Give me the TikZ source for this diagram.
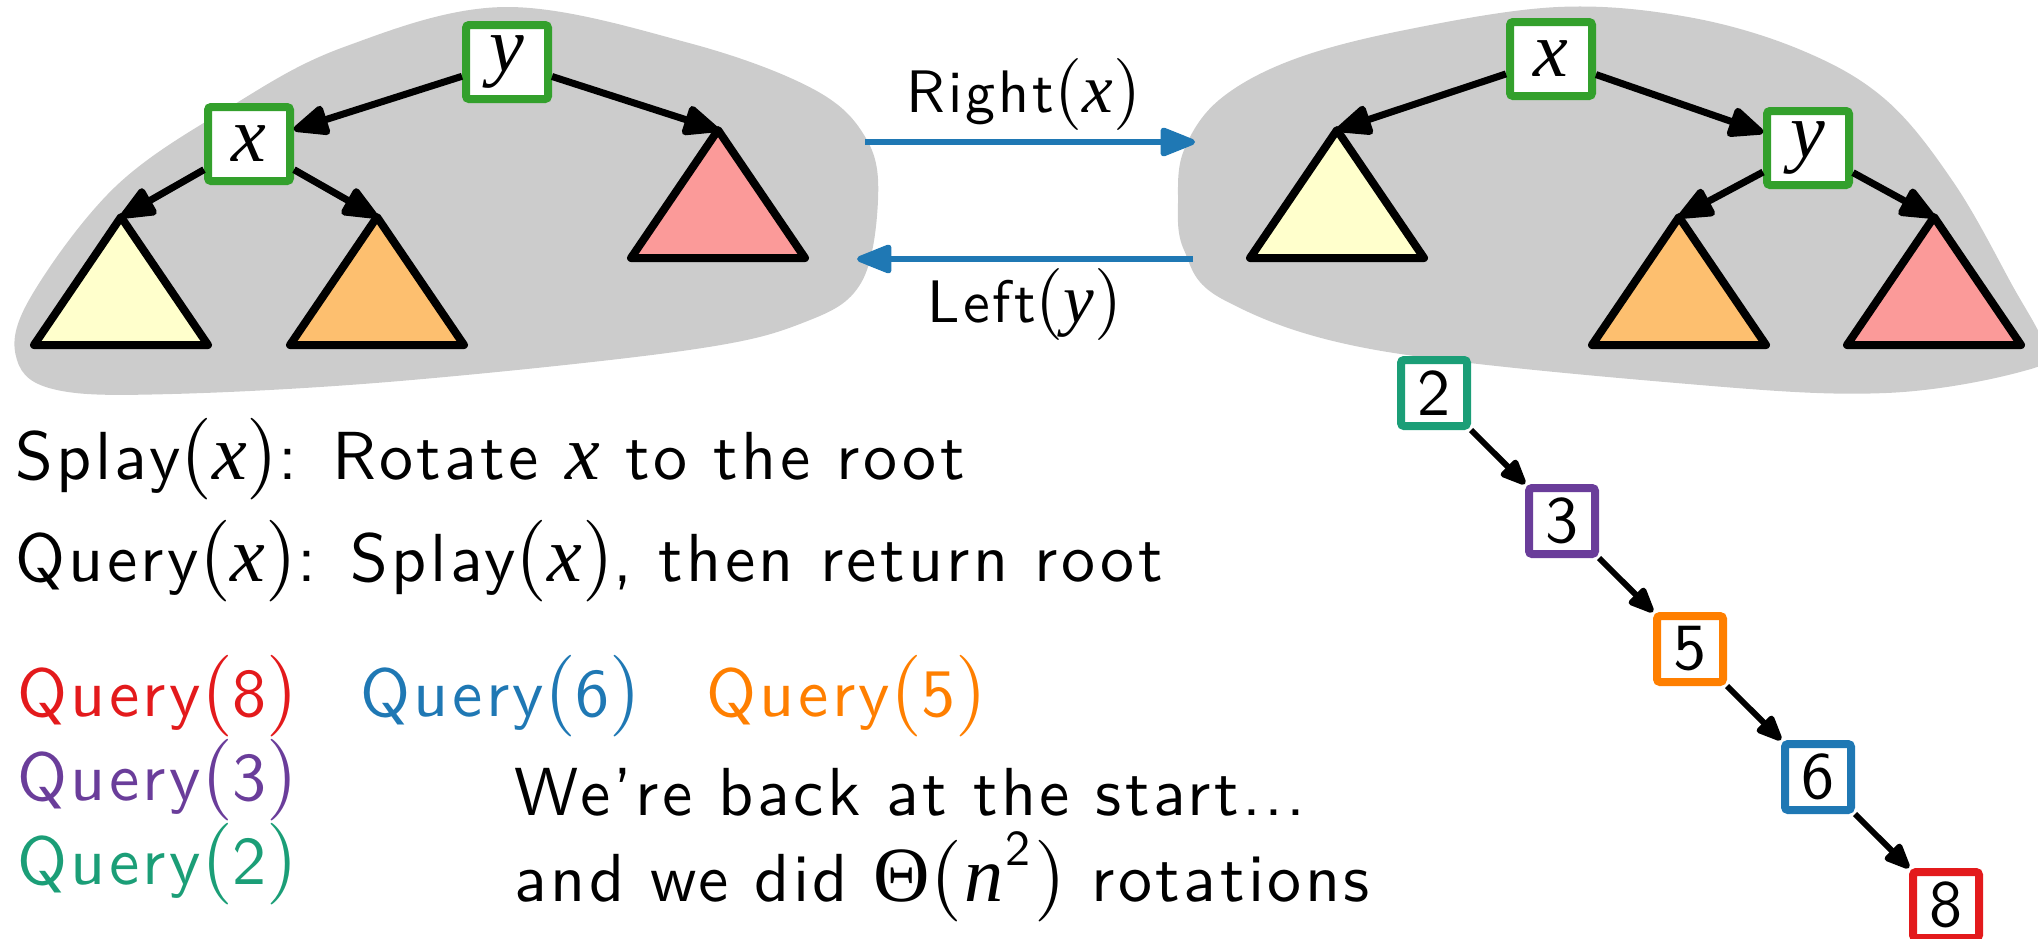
\documentclass[tikz,border=0pt]{standalone}
\usepackage{fontspec}
\usetikzlibrary{arrows.meta}
\setsansfont{lmsans10-regular.otf}[LetterSpace=5]
\newfontfamily\mfont[Scale=1.15]{Liberation Serif}
\newfontfamily\pfont[Scale=1.2]{lmroman10-regular.otf}
\newcommand\mi[1]{{\mfont\itshape #1}}
\newcommand\lp{{\pfont(}}
\newcommand\rp{{\pfont)}}
\definecolor{cgray}{HTML}{CCCCCC}
\definecolor{cgreen}{HTML}{33A02C}
\definecolor{cyellow}{HTML}{FFFFCC}
\definecolor{corange}{HTML}{FDBF6F}
\definecolor{cpink}{HTML}{FB9A99}
\definecolor{cblue}{HTML}{1F78B4}
\definecolor{qred}{HTML}{E31A1C}
\definecolor{qorange}{HTML}{FF7F00}
\definecolor{qpurple}{HTML}{6A3D9A}
\definecolor{qgreen}{HTML}{1B9E77}
\newcommand\myfs{\fontsize{34}{40}\selectfont}
\newcommand\labfs{\fontsize{30}{36}\selectfont}
\begin{document}
\begin{tikzpicture}[x=0.5pt,y=-0.5pt,
  every node/.style={font=\myfs\sffamily},
  tbox/.style={draw=cgreen, line width=4pt, fill=white, rounded corners=1.5pt, minimum width=41pt, minimum height=37pt, inner sep=0pt},
  cbox/.style={line width=4pt, fill=white, rounded corners=1.5pt, minimum size=33pt, inner sep=0pt, font=\fontsize{33}{36}\selectfont\sffamily},
  tarr/.style={line width=3.5pt, -{Triangle[length=20pt,width=16pt,round]}},
  carr/.style={line width=3pt, -{Triangle[length=15pt,width=12pt,round]}},
  barr/.style={line width=3pt, draw=cblue, -{Triangle[length=20pt,width=15pt,round]}},
  tri/.style={line width=4pt, line join=round},
  txt/.style={anchor=base west, inner sep=0pt},
  lab/.style={anchor=base, inner sep=0pt, font=\labfs\sffamily}
]
\useasboundingbox (0,0) rectangle (2038,938);
\clip (0,0) rectangle (2038,938);
% blobs
\fill[cgray] plot[smooth cycle, tension=0.6] coordinates {
  (505,7) (689,43) (815,90) (867,140) (878,200) (861,283) (805,322) (689,350)
  (400,381) (172,394) (57,390) (17,360) (29,300) (115,187) (230,107) (344,47)};
\fill[cgray] plot[smooth cycle, tension=0.6] coordinates {
  (1558,7) (1688,17) (1801,50) (1886,100) (1954,183) (2011,283) (2045,350)
  (2020,372) (1886,393) (1700,385) (1376,350) (1224,300) (1184,250) (1178,200)
  (1184,150) (1219,100) (1292,60) (1405,30)};
% left tree
\coordinate (la) at (121,217);
\coordinate (lb) at (377,217);
\coordinate (lc) at (718,130);
\filldraw[tri, fill=cyellow] (la) -- ++(87,128) -- ++(-174,0) -- cycle;
\filldraw[tri, fill=corange] (lb) -- ++(87,128) -- ++(-174,0) -- cycle;
\filldraw[tri, fill=cpink] (lc) -- ++(87,128) -- ++(-174,0) -- cycle;
\node[tbox] (ly) at (507,62) {\mi{y}};
\node[tbox] (lx) at (249,144) {\mi{x}};
\draw[tarr] (ly) -- (lx);
\draw[tarr] (ly) -- (lc);
\draw[tarr] (lx) -- (la);
\draw[tarr] (lx) -- (lb);
% right tree
\coordinate (ra) at (1337,130);
\coordinate (rb) at (1679,217);
\coordinate (rc) at (1934,217);
\filldraw[tri, fill=cyellow] (ra) -- ++(87,128) -- ++(-174,0) -- cycle;
\filldraw[tri, fill=corange] (rb) -- ++(87,128) -- ++(-174,0) -- cycle;
\filldraw[tri, fill=cpink] (rc) -- ++(87,128) -- ++(-174,0) -- cycle;
\node[tbox] (rx) at (1551,59) {\mi{x}};
\node[tbox] (ry) at (1808,148) {\mi{y}};
\draw[tarr] (rx) -- (ry);
\draw[tarr] (rx) -- (ra);
\draw[tarr] (ry) -- (rb);
\draw[tarr] (ry) -- (rc);
% rotation arrows
\coordinate (r1s) at (865,142);
\coordinate (r1e) at (1195,142);
\coordinate (r2s) at (1193,259);
\coordinate (r2e) at (857,259);
\draw[barr] (r1s) -- (r1e);
\draw[barr] (r2s) -- (r2e);
\node[lab] (rl) at (1024,112) {Right\lp\mi{x}\rp};
\node[lab] (ll) at (1025,322) {Left\lp\mi{y}\rp};
% texts
\node[txt] (t1) at (15,479) {Splay\lp\mi{x}\rp: Rotate \mi{x} to the root};
\node[txt] (t2) at (15,581) {Query\lp\mi{x}\rp: Splay\lp\mi{x}\rp, then return root};
\node[txt, text=qred] (q8) at (17,716) {Query\lp 8\rp};
\node[txt, text=cblue] (q6) at (360,716) {Query\lp 6\rp};
\node[txt, text=qorange] (q5) at (706,716) {Query\lp 5\rp};
\node[txt, text=qpurple] (q3) at (17,800) {Query\lp 3\rp};
\node[txt, text=qgreen] (q2) at (17,884) {Query\lp 2\rp};
\node[txt] (w1) at (514,815) {We're back at the start...};
\node[txt] (w2) at (514,901) {and we did {\mfont\symbol{"0398}}\lp\kern1pt\mi{n}\kern1pt\raisebox{0.52em}{\fontsize{25}{25}\selectfont 2}\kern2pt\rp{} rotations};
% chain
\node[cbox, draw=qgreen] (c2) at (1434,393) {2};
\node[cbox, draw=qpurple] (c3) at (1562,521) {3};
\node[cbox, draw=qorange] (c5) at (1690,649) {5};
\node[cbox, draw=cblue] (c6) at (1818,777) {6};
\node[cbox, draw=qred] (c8) at (1946,905) {8};
\draw[carr] (c2) -- (c3);
\draw[carr] (c3) -- (c5);
\draw[carr] (c5) -- (c6);
\draw[carr] (c6) -- (c8);
\end{tikzpicture}
\end{document}
